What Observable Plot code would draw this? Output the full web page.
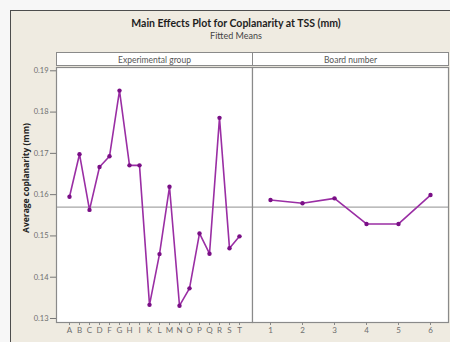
<!DOCTYPE html>
<html><head><meta charset="utf-8">
<script src="https://cdn.jsdelivr.net/npm/d3@7"></script>
<script src="https://cdn.jsdelivr.net/npm/@observablehq/plot@0.6"></script>
<style>
html,body{margin:0;padding:0;background:#f7f7f7;}
#wrap{position:relative;width:450px;height:342px;overflow:hidden;font-family:Lato,"DejaVu Sans",sans-serif;}
.bg{position:absolute;left:10px;top:10px;width:445px;height:340px;background:#efebe1;border-left:1.5px solid #4d4d4d;border-top:1.5px solid #4d4d4d;}
.title{position:absolute;left:0;width:472px;text-align:center;top:17px;font-weight:bold;font-size:10.5px;color:#1e1e1e;white-space:nowrap;}
.sub{position:absolute;left:0;width:472px;text-align:center;top:30px;font-size:9px;color:#444;white-space:nowrap;}
.strip{position:absolute;top:52px;height:14px;line-height:14px;background:#fff;border:1px solid #8a8a8a;box-sizing:border-box;text-align:center;font-size:8.5px;color:#555;white-space:nowrap;}
.ylab{position:absolute;left:25px;top:178px;transform:translate(-50%,-50%) rotate(-90deg);font-family:"Open Sans",sans-serif;font-weight:bold;font-size:8.5px;color:#222;white-space:nowrap;}
svg.p{position:absolute;left:0;top:0;}
</style>
</head><body>
<div id="wrap">
  <div class="bg"></div>
  <div class="title">Main Effects Plot for Coplanarity at TSS (mm)</div>
  <div class="sub">Fitted Means</div>
  <div class="ylab">Average coplanarity (mm)</div>
</div>
<script>
const groups = ["A","B","C","D","F","G","H","I","K","L","M","N","O","P","Q","R","S","T"];
const groupMeans = [0.1595,0.1698,0.1563,0.1667,0.1693,0.1852,0.1671,0.1671,0.1333,0.1456,0.1619,0.1331,0.1373,0.1506,0.1457,0.1786,0.1470,0.1499];
const boards = ["1","2","3","4","5","6"];
const boardMeans = [0.1587,0.1579,0.1591,0.1529,0.1529,0.1599];
const grandMean = 0.1570;
const yTicks = [0.13,0.14,0.15,0.16,0.17,0.18,0.19];
const stripLabels = ["Experimental group","Board number"];

const wrap = document.getElementById("wrap");
const yDomain = [0.12903, 0.1908];
const lineColor = "#9a2ea4";
const dotColor = "#7a0f86";

function panel(cats, vals, left, right, withY) {
  const data = cats.map((c,i)=>({c, v: vals[i]}));
  const marks = [
    Plot.frame({fill:"white", stroke:"none"}),
    Plot.ruleY([grandMean], {stroke:"#a6a6a6", strokeWidth:1.3}),
    Plot.line(data, {x:"c", y:"v", stroke:lineColor, strokeWidth:1.6}),
    Plot.dot(data, {x:"c", y:"v", r:2.2, fill:dotColor, stroke:"none"}),
    Plot.frame({stroke:"#8a8a8a", strokeWidth:1.2}),
    Plot.axisX({label:null, tickSize:3, tickPadding:2, fontSize:8, stroke:"#888", fill:"#6e6e6e"})
  ];
  if (withY) marks.push(Plot.axisY({label:null, ticks:yTicks, tickFormat:d3.format(".2f"), tickSize:6, tickPadding:2, fontSize:7.5, stroke:"#777", fill:"#6e6e6e"}));
  const svg = Plot.plot({
    width:450, height:342,
    marginLeft:left, marginRight:450-right, marginTop:67, marginBottom:20,
    x:{type:"point", domain:cats, padding:0.5, axis:null, label:null},
    y:{domain:yDomain, axis:null, label:null},
    style:{background:"transparent", fontFamily:"Lato, DejaVu Sans, sans-serif", overflow:"visible"},
    marks
  });
  svg.classList.add("p");
  wrap.appendChild(svg);
}
panel(groups, groupMeans, 56, 252, true);
panel(boards, boardMeans, 252, 448, false);

[[56,197],[252,197]].forEach(([l,w],i)=>{
  const d = document.createElement("div");
  d.className = "strip";
  d.style.left = l+"px"; d.style.width = w+"px";
  d.textContent = stripLabels[i];
  wrap.appendChild(d);
});
</script>
</body></html>
